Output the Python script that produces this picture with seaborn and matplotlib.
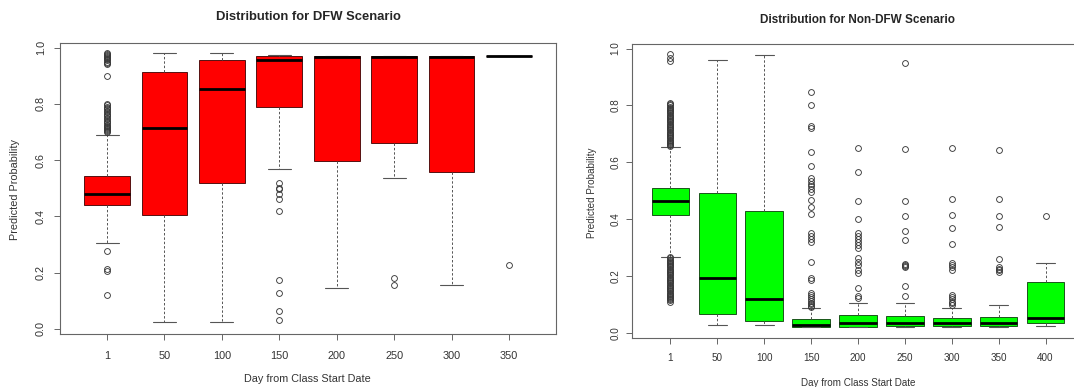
import matplotlib
matplotlib.use("Agg")
import matplotlib.pyplot as plt
import seaborn as sns

sns.set_style("white")
plt.rcParams['font.family'] = ['Liberation Sans', 'DejaVu Sans']

# DFW scenario, boxplot stats
dfw_days = [1, 50, 100, 150, 200, 250, 300, 350]
dfw_whislo = [0.304, 0.024, 0.024, 0.568, 0.146, 0.536, 0.155, 0.970]
dfw_q1 = [0.440, 0.406, 0.518, 0.790, 0.595, 0.660, 0.556, 0.970]
dfw_med = [0.480, 0.714, 0.853, 0.954, 0.965, 0.966, 0.966, 0.970]
dfw_q3 = [0.544, 0.912, 0.954, 0.970, 0.970, 0.970, 0.970, 0.970]
dfw_whishi = [0.690, 0.982, 0.982, 0.972, 0.970, 0.970, 0.970, 0.970]
dfw_fliers = [
    [0.277, 0.212, 0.205, 0.120,
     0.698, 0.702, 0.706, 0.710, 0.714, 0.718, 0.722, 0.726, 0.730, 0.735,
     0.740, 0.745, 0.750, 0.755, 0.760, 0.765, 0.770, 0.775, 0.780, 0.785,
     0.790, 0.795, 0.800, 0.900,
     0.942, 0.946, 0.950, 0.954, 0.958, 0.962, 0.966, 0.970, 0.974, 0.978, 0.982],
    [],
    [],
    [0.520, 0.500, 0.496, 0.478, 0.460, 0.418, 0.175, 0.127, 0.065, 0.031],
    [],
    [0.180, 0.155],
    [],
    [0.228],
]

# Non-DFW scenario
ndfw_days = [1, 50, 100, 150, 200, 250, 300, 350, 400]
ndfw_whislo = [0.268, 0.026, 0.026, 0.022, 0.022, 0.022, 0.022, 0.021, 0.025]
ndfw_q1 = [0.415, 0.067, 0.041, 0.022, 0.022, 0.024, 0.024, 0.023, 0.035]
ndfw_med = [0.465, 0.194, 0.118, 0.027, 0.036, 0.036, 0.036, 0.035, 0.054]
ndfw_q3 = [0.511, 0.491, 0.427, 0.049, 0.063, 0.058, 0.053, 0.056, 0.179]
ndfw_whishi = [0.654, 0.961, 0.976, 0.088, 0.105, 0.105, 0.088, 0.098, 0.246]
ndfw_fliers = [
    [0.656, 0.660, 0.664, 0.668, 0.672, 0.676, 0.680, 0.684, 0.688, 0.692,
     0.696, 0.700, 0.704, 0.708, 0.712, 0.716, 0.720, 0.724, 0.728, 0.732,
     0.736, 0.740, 0.744, 0.748, 0.752, 0.756, 0.760, 0.764, 0.768, 0.772,
     0.776, 0.780, 0.784, 0.788, 0.792, 0.796, 0.800, 0.804, 0.808,
     0.955, 0.968, 0.980,
     0.110, 0.114, 0.118, 0.122, 0.126, 0.130, 0.134, 0.138, 0.142, 0.146,
     0.150, 0.154, 0.158, 0.162, 0.166, 0.170, 0.174, 0.178, 0.182, 0.186,
     0.190, 0.194, 0.198, 0.202, 0.206, 0.210, 0.214, 0.218, 0.222, 0.226,
     0.230, 0.234, 0.238, 0.242, 0.246, 0.250, 0.254, 0.258, 0.262, 0.266],
    [],
    [],
    [0.847, 0.803, 0.728, 0.722, 0.636, 0.586, 0.545, 0.535, 0.525, 0.515,
     0.505, 0.495, 0.467, 0.442, 0.418, 0.350, 0.340, 0.330, 0.320, 0.250,
     0.193, 0.186, 0.140, 0.132, 0.125, 0.118, 0.112, 0.106, 0.100, 0.094, 0.090],
    [0.649, 0.566, 0.464, 0.400, 0.350, 0.340, 0.330, 0.318, 0.308, 0.298,
     0.263, 0.250, 0.238, 0.222, 0.210, 0.158, 0.130, 0.123],
    [0.948, 0.645, 0.463, 0.412, 0.359, 0.326, 0.242, 0.238, 0.234, 0.230,
     0.165, 0.130],
    [0.649, 0.470, 0.414, 0.368, 0.312, 0.245, 0.238, 0.230, 0.222,
     0.133, 0.125, 0.118, 0.110, 0.104, 0.098],
    [0.642, 0.470, 0.412, 0.372, 0.260, 0.232, 0.226, 0.220, 0.214],
    [0.412],
]

y_ticks = [0.0, 0.2, 0.4, 0.6, 0.8, 1.0]


def make_stats(days, lo, q1, med, q3, hi, fliers):
    out = []
    for i in range(len(days)):
        out.append(dict(label=str(days[i]), whislo=lo[i], q1=q1[i], med=med[i],
                        q3=q3[i], whishi=hi[i], fliers=fliers[i]))
    return out


def draw_panel(ax, stats, fill, edge, fs, ypad, xpad):
    n = len(stats)
    ax.bxp(stats, positions=range(1, n + 1), widths=0.8, capwidths=0.4,
           patch_artist=True, showfliers=True,
           boxprops=dict(facecolor=fill, edgecolor=edge, linewidth=0.6),
           medianprops=dict(color='black', linewidth=2.0, solid_capstyle='butt'),
           whiskerprops=dict(color='#555555', linewidth=0.7, linestyle=(0, (2.5, 2.0))),
           capprops=dict(color='#555555', linewidth=0.8),
           flierprops=dict(marker='o', markerfacecolor='none', markeredgecolor='#3a3a3a',
                           markersize=4.2, markeredgewidth=0.65))
    ax.set_xlim(1 - 0.82, n + 0.82)
    ax.set_ylim(-0.018, 1.016)
    ax.set_yticks(y_ticks)
    ax.set_yticklabels([f'{v:.1f}' for v in y_ticks], rotation=90, va='center')
    for s in ax.spines.values():
        s.set_color('#666666')
        s.set_linewidth(0.8)
    ax.tick_params(axis='both', direction='out', length=4.5, width=0.7, color='#666666',
                   labelsize=fs, labelcolor='#333333')
    ax.tick_params(axis='y', pad=ypad, left=True)
    ax.tick_params(axis='x', pad=xpad, bottom=True)
    ax.grid(False)


fig = plt.figure(figsize=(10.74, 3.87), dpi=100)

ax1 = fig.add_axes([60 / 1074, 1 - 334 / 387, 496 / 1074, 291 / 387])
draw_panel(ax1, make_stats(dfw_days, dfw_whislo, dfw_q1, dfw_med, dfw_q3, dfw_whishi, dfw_fliers),
           '#ff0000', '#3a0000', 7.8, 5.5, 7.5)

ax2 = fig.add_axes([632 / 1074, 1 - 338 / 387, 452 / 1074, 294 / 387])
draw_panel(ax2, make_stats(ndfw_days, ndfw_whislo, ndfw_q1, ndfw_med, ndfw_q3, ndfw_whishi, ndfw_fliers),
           '#00ff00', '#0a3a0a', 7.1, 4.0, 6.5)

fig.text(308 / 1074, 1 - 17 / 387, 'Distribution for DFW Scenario', ha='center', va='center',
         fontsize=9.4, fontweight='bold')
fig.text(858 / 1074, 1 - 20 / 387, 'Distribution for Non-DFW Scenario', ha='center', va='center',
         fontsize=8.5, fontweight='bold')
fig.text(307 / 1074, 1 - 379 / 387, 'Day from Class Start Date', ha='center', va='center',
         fontsize=7.8, color='#333333')
fig.text(858 / 1074, 1 - 383 / 387, 'Day from Class Start Date', ha='center', va='center',
         fontsize=7.1, color='#333333')
fig.text(15 / 1074, 1 - 189 / 387, 'Predicted Probability', ha='center', va='center',
         rotation=90, fontsize=7.8, color='#333333')
fig.text(592 / 1074, 1 - 193 / 387, 'Predicted Probability', ha='center', va='center',
         rotation=90, fontsize=7.1, color='#333333')

fig.savefig('out.png', dpi=100)
